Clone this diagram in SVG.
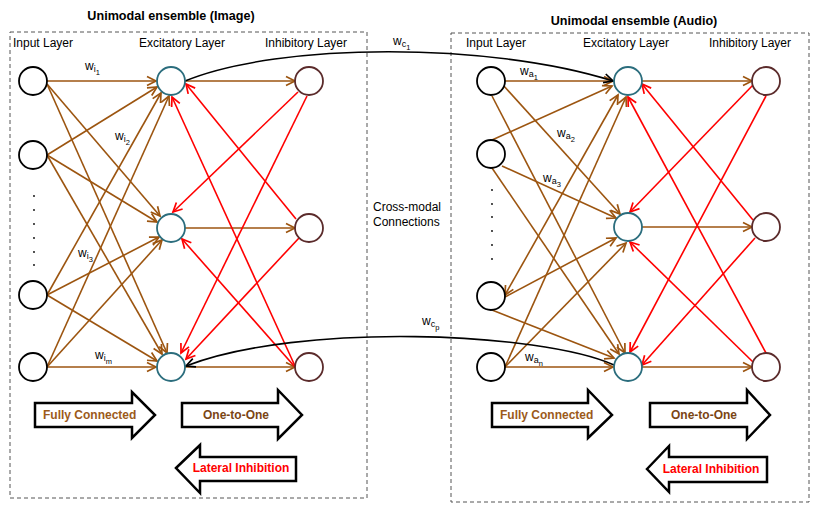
<svg xmlns="http://www.w3.org/2000/svg" width="817" height="511" viewBox="0 0 817 511">
<style>
text{font-family:"Liberation Sans",Arial,sans-serif;fill:#000}
.t{font-size:12px}
.tb{font-size:12px;font-weight:bold}
.ti{font-size:12.6px;font-weight:bold}
.w{font-size:12px}
.s1{font-size:9px}
.s2{font-size:7.5px}
.box{fill:none;stroke:#555;stroke-width:1;stroke-dasharray:4,3}
.in{fill:#fff;stroke:#000;stroke-width:1.8}
.ex{fill:#fff;stroke:#2b6d7d;stroke-width:1.8}
.ih{fill:#fff;stroke:#5b2b2b;stroke-width:1.8}
.b{stroke:#9c5510;stroke-width:1.6;fill:none;marker-end:url(#ab)}
.r{stroke:#ff0000;stroke-width:1.6;fill:none;marker-end:url(#ar)}
.k{stroke:#000;stroke-width:1.6;fill:none;marker-end:url(#ak)}
.ba{fill:#fff;stroke:#000;stroke-width:2.5;stroke-linejoin:miter}
.dot{fill:#000}
</style>
<defs>
<marker id="ab" markerUnits="userSpaceOnUse" markerWidth="14" markerHeight="14" refX="12" refY="7" orient="auto-start-reverse"><path d="M3,2.5 L12,7 L3,11.5" fill="none" stroke="#9c5510" stroke-width="1.7"/></marker>
<marker id="ar" markerUnits="userSpaceOnUse" markerWidth="14" markerHeight="14" refX="12" refY="7" orient="auto"><path d="M3,2.5 L12,7 L3,11.5" fill="none" stroke="#ff0000" stroke-width="1.7"/></marker>
<marker id="ak" markerUnits="userSpaceOnUse" markerWidth="14" markerHeight="14" refX="12" refY="7" orient="auto"><path d="M3,2.5 L12,7 L3,11.5" fill="none" stroke="#000" stroke-width="1.7"/></marker>
</defs>

<g id="ensemble-image">
<rect class="box" x="10" y="32" width="357" height="466"/>
<text class="ti" x="171" y="20" text-anchor="middle">Unimodal ensemble (Image)</text>
<text class="t" x="13" y="47">Input Layer</text>
<text class="t" x="139" y="47">Excitatory Layer</text>
<text class="t" x="265" y="47">Inhibitory Layer</text>
</g>
<g id="ensemble-audio">
<rect class="box" x="451" y="33" width="358" height="469"/>
<text class="ti" x="634" y="25" text-anchor="middle">Unimodal ensemble (Audio)</text>
<text class="t" x="466" y="47">Input Layer</text>
<text class="t" x="583" y="47">Excitatory Layer</text>
<text class="t" x="709" y="47">Inhibitory Layer</text>
</g>

<g id="connectors">
<line class="b" x1="47" y1="81" x2="156" y2="81"/>
<line class="b" x1="47" y1="84" x2="160" y2="216"/>
<line class="b" x1="47" y1="84" x2="167" y2="353"/>
<line class="b" x1="47" y1="155" x2="157" y2="87"/>
<line class="b" x1="47" y1="155" x2="157" y2="222"/>
<line class="b" x1="47" y1="155" x2="162" y2="354"/>
<line class="b" x1="47" y1="295" x2="161" y2="93"/>
<line class="b" x1="47" y1="295" x2="159" y2="237"/>
<line class="b" x1="47" y1="295" x2="157" y2="361"/>
<line class="b" x1="47" y1="367" x2="169" y2="96"/>
<line class="b" x1="47" y1="367" x2="162" y2="240"/>
<line class="b" x1="47" y1="367" x2="156" y2="367"/>
<line class="b" x1="185" y1="81" x2="295" y2="81"/>
<line class="b" x1="185" y1="228" x2="295" y2="228"/>
<line class="b" x1="185" y1="367" x2="295" y2="367"/>
<line class="r" x1="298" y1="92" x2="173" y2="212"/>
<line class="r" x1="307" y1="96" x2="181" y2="353"/>
<line class="r" x1="296" y1="219" x2="186" y2="84"/>
<line class="r" x1="299" y1="238" x2="186" y2="359"/>
<line class="r" x1="295" y1="366" x2="172" y2="97"/>
<line class="r" x1="295" y1="367" x2="182" y2="239"/>
<line class="b" x1="505" y1="81" x2="613" y2="81"/>
<line class="b" x1="503" y1="85" x2="620" y2="214"/>
<line class="b" x1="492" y1="96" x2="625" y2="353"/>
<line class="b" x1="492" y1="140" x2="612" y2="86"/>
<line class="b" x1="502" y1="166" x2="616" y2="218"/>
<line class="b" x1="492" y1="168" x2="619" y2="354"/>
<line class="b" x1="505" y1="295" x2="618" y2="95" marker-start="url(#ab)"/>
<line class="b" x1="505" y1="297" x2="616" y2="238"/>
<line class="b" x1="492" y1="310" x2="614" y2="358"/>
<line class="b" x1="505" y1="367" x2="626" y2="97"/>
<line class="b" x1="505" y1="367" x2="626" y2="243"/>
<line class="b" x1="505" y1="367" x2="613" y2="367"/>
<line class="b" x1="642" y1="81" x2="752" y2="81"/>
<line class="b" x1="642" y1="227" x2="752" y2="227"/>
<line class="b" x1="642" y1="367" x2="752" y2="367"/>
<line class="r" x1="753" y1="85" x2="630" y2="212"/>
<line class="r" x1="766" y1="96" x2="630" y2="352"/>
<line class="r" x1="753" y1="220" x2="642" y2="84"/>
<line class="r" x1="755" y1="238" x2="642" y2="365"/>
<line class="r" x1="766" y1="353" x2="628" y2="97"/>
<line class="r" x1="753" y1="362" x2="630" y2="242"/>
<path class="k" d="M185,81 C280,42 490,42 613,81"/>
<path class="k" d="M614,365 C540,332 300,322 186,366"/>
</g>

<g id="weight-labels">
<text class="w" x="85" y="70">w<tspan class="s1" dy="2">i</tspan><tspan class="s2" dy="3">1</tspan></text>
<text class="w" x="115" y="140">w<tspan class="s1" dy="2">i</tspan><tspan class="s2" dy="3">2</tspan></text>
<text class="w" x="78" y="257">w<tspan class="s1" dy="2">i</tspan><tspan class="s2" dy="3">3</tspan></text>
<text class="w" x="95" y="359">w<tspan class="s1" dy="2">i</tspan><tspan class="s2" dy="3">m</tspan></text>
<text class="w" x="520" y="75">w<tspan class="s1" dy="2">a</tspan><tspan class="s2" dy="3">1</tspan></text>
<text class="w" x="557" y="137">w<tspan class="s1" dy="2">a</tspan><tspan class="s2" dy="3">2</tspan></text>
<text class="w" x="543" y="182">w<tspan class="s1" dy="2">a</tspan><tspan class="s2" dy="3">3</tspan></text>
<text class="w" x="525" y="361">w<tspan class="s1" dy="2">a</tspan><tspan class="s2" dy="3">n</tspan></text>
<text class="w" x="393" y="45">w<tspan class="s1" dy="2">c</tspan><tspan class="s2" dy="3">1</tspan></text>
<text class="w" x="422" y="325">w<tspan class="s1" dy="2">c</tspan><tspan class="s2" dy="3">p</tspan></text>
</g>

<g id="cross-modal-label">
<text class="t" x="373" y="211">Cross-modal</text>
<text class="t" x="373" y="226">Connections</text>
</g>

<g id="input-dots-left">
<circle class="dot" cx="34" cy="196" r="0.9"/><circle class="dot" cx="34" cy="210" r="0.9"/><circle class="dot" cx="34" cy="224" r="0.9"/><circle class="dot" cx="34" cy="238" r="0.9"/><circle class="dot" cx="34" cy="252" r="0.9"/><circle class="dot" cx="34" cy="265" r="0.9"/>
</g>
<g id="input-dots-right">
<circle class="dot" cx="492" cy="190" r="0.9"/><circle class="dot" cx="492" cy="204" r="0.9"/><circle class="dot" cx="492" cy="217" r="0.9"/><circle class="dot" cx="492" cy="231" r="0.9"/><circle class="dot" cx="492" cy="245" r="0.9"/><circle class="dot" cx="492" cy="259" r="0.9"/>
</g>

<g id="img-in1"><circle class="in" cx="33" cy="81" r="14"/></g>
<g id="img-in2"><circle class="in" cx="33" cy="155" r="14"/></g>
<g id="img-in3"><circle class="in" cx="33" cy="295" r="14"/></g>
<g id="img-in4"><circle class="in" cx="33" cy="367" r="14"/></g>
<g id="img-ex1"><circle class="ex" cx="171" cy="81" r="14"/></g>
<g id="img-ex2"><circle class="ex" cx="171" cy="228" r="14"/></g>
<g id="img-ex3"><circle class="ex" cx="171" cy="367" r="14"/></g>
<g id="img-ih1"><circle class="ih" cx="309" cy="81" r="14"/></g>
<g id="img-ih2"><circle class="ih" cx="309" cy="228" r="14"/></g>
<g id="img-ih3"><circle class="ih" cx="309" cy="367" r="14"/></g>

<g id="aud-in1"><circle class="in" cx="491" cy="81" r="14"/></g>
<g id="aud-in2"><circle class="in" cx="491" cy="154" r="14"/></g>
<g id="aud-in3"><circle class="in" cx="491" cy="296" r="14"/></g>
<g id="aud-in4"><circle class="in" cx="491" cy="367" r="14"/></g>
<g id="aud-ex1"><circle class="ex" cx="628" cy="81" r="14"/></g>
<g id="aud-ex2"><circle class="ex" cx="628" cy="227" r="14"/></g>
<g id="aud-ex3"><circle class="ex" cx="628" cy="367" r="14"/></g>
<g id="aud-ih1"><circle class="ih" cx="766" cy="81" r="14"/></g>
<g id="aud-ih2"><circle class="ih" cx="766" cy="227" r="14"/></g>
<g id="aud-ih3"><circle class="ih" cx="766" cy="367" r="14"/></g>

<g id="img-fully-connected">
<polygon class="ba" points="35,403 132,403 132,392 155,415 132,438 132,427 35,427"/>
<text class="tb" x="43" y="419" style="fill:#9c5a1a">Fully Connected</text>
</g>
<g id="img-one-to-one">
<polygon class="ba" points="182,403 278,403 278,390 302,415 278,439 278,427 182,427"/>
<text class="tb" x="236" y="419" text-anchor="middle" style="fill:#7a4514">One-to-One</text>
</g>
<g id="img-lateral-inhibition">
<polygon class="ba" points="176,468 200,445 200,457 296,457 296,481 200,481 200,493"/>
<text class="tb" x="241" y="472" text-anchor="middle" style="fill:#ff0000">Lateral Inhibition</text>
</g>
<g id="aud-fully-connected">
<polygon class="ba" points="492,403 588,403 588,390 612,415 588,438 588,427 492,427"/>
<text class="tb" x="500" y="419" style="fill:#9c5a1a">Fully Connected</text>
</g>
<g id="aud-one-to-one">
<polygon class="ba" points="650,403 747,403 747,390 770,415 747,439 747,427 650,427"/>
<text class="tb" x="704" y="419" text-anchor="middle" style="fill:#7a4514">One-to-One</text>
</g>
<g id="aud-lateral-inhibition">
<polygon class="ba" points="647,469 669,446 669,457 767,457 767,482 669,482 669,492"/>
<text class="tb" x="711" y="473" text-anchor="middle" style="fill:#ff0000">Lateral Inhibition</text>
</g>
</svg>
